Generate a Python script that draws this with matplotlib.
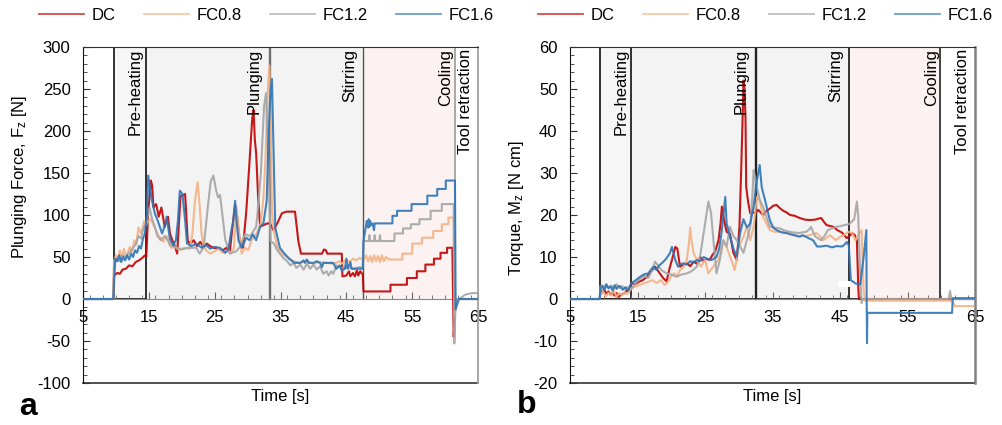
import numpy as np
import matplotlib.pyplot as plt
from matplotlib.patches import Rectangle
from matplotlib.ticker import MultipleLocator

plt.rcParams['font.family'] = ['Liberation Sans', 'DejaVu Sans']
plt.rcParams['font.size'] = 12
plt.rcParams['mathtext.default'] = 'regular'
plt.rcParams['axes.unicode_minus'] = False

series = ['DC', 'FC0.8', 'FC1.2', 'FC1.6']
colors = ['#c00000', '#f4b183', '#a5a5a5', '#2e75b6']
phase_names = ['Pre-heating', 'Plunging', 'Stirring', 'Cooling', 'Tool retraction']

# phase boundaries [s] and label positions
phases_a = [9.7, 14.55, 33.4, 47.5, 61.5]
phases_b = [9.44, 14.04, 32.5, 46.4, 59.8]
label_x_a = [12.9, 31.0, 45.5, 60.1, 63.1]
label_x_b = [12.5, 30.4, 44.4, 58.5, 63.1]

# ---- (a) plunging force ----
dc_f_t = [5, 9.6, 9.7, 10.2, 10.6, 11.0, 11.5, 12.0, 12.5, 13.0, 13.5, 14.0, 14.4, 14.6, 14.9, 15.3, 15.5, 15.7,
          16.1, 16.5, 16.9, 17.4, 17.9, 18.2, 18.6, 19.0, 19.3, 19.6, 19.8, 20.5, 20.7, 20.9, 21.3, 21.8, 22.3,
          22.8, 23.3, 23.8, 24.3, 24.8, 25.5, 26.2, 26.8, 27.3, 27.7, 28.1, 28.4, 28.8, 29.3, 29.8, 30.3, 30.7,
          30.9, 31.1, 31.3, 31.6, 31.9, 32.4, 33.0, 33.4, 33.9, 34.5, 35.2, 35.9, 36.9, 37.2, 37.7, 38.1, 41.3,
          41.6, 41.9, 42.1, 44.3, 44.4, 45.0, 45.4, 45.6, 46.0, 46.3, 46.6, 46.8, 47.1, 47.5, 47.6, 51.7, 51.7,
          54.2, 54.2, 55.7, 55.7, 57.0, 57.0, 58.3, 58.3, 59.3, 59.3, 60.3, 60.3, 61.1, 61.3, 61.5, 61.7, 65]
dc_f = [0, 0, 28, 31, 30, 35, 36, 40, 39, 44, 46, 49, 52, 50, 104, 141, 135, 109,
        113, 98, 109, 86, 98, 78, 69, 62, 54, 95, 122, 125, 98, 69, 66, 70, 63,
        68, 62, 66, 63, 61, 60, 58, 61, 57, 86, 112, 98, 69, 61, 105, 165, 215,
        225, 189, 173, 120, 86, 88, 90, 90, 82, 90, 102, 104, 104, 104, 69, 54, 54,
        59, 58, 54, 54, 27, 28, 33, 27, 31, 27, 34, 28, 33, 29, 9, 9, 17,
        17, 25, 25, 33, 33, 41, 41, 48, 48, 55, 55, 61, 61, -45, -15, 0, 0]

fc08_f_t = [5, 9.6, 9.7, 10.0, 10.3, 10.6, 10.9, 11.2, 11.5, 11.8, 12.1, 12.4, 12.8, 13.1, 13.4, 13.8, 14.3, 14.6,
            14.9, 15.3, 15.8, 16.5, 17.2, 17.7, 18.4, 19.0, 19.6, 20.3, 21.2, 21.6, 22.0, 22.4, 22.7, 23.0, 23.3,
            23.7, 24.3, 25.0, 25.6, 26.2, 26.8, 27.4, 27.9, 28.3, 28.6, 29.1, 29.6, 30.1, 30.6, 31.3, 32.0, 32.4,
            32.7, 33.0, 33.3, 33.5, 33.7, 34.0, 34.5, 35.2, 36.0, 37.0, 38.0, 39.0, 40.0, 41.0, 42.0, 43.0, 44.0,
            44.3, 45.0, 45.5, 46.0, 46.5, 47.0, 47.5, 47.6, 48.0, 48.3, 48.6, 48.9, 49.2, 49.5, 49.8, 50.1, 50.4,
            50.7, 51.0, 51.5, 53.5, 53.5, 55.0, 55.0, 56.5, 56.5, 58.2, 58.2, 59.5, 59.5, 60.5, 60.5, 61.3,
            61.45, 61.6, 61.8, 65]
fc08_f = [0, 0, 45, 52, 47, 58, 48, 60, 50, 56, 62, 55, 70, 65, 85, 78, 93, 88,
          93, 95, 86, 75, 68, 75, 61, 62, 58, 61, 60, 77, 117, 139, 113, 78, 64,
          58, 54, 57, 60, 55, 57, 55, 60, 110, 86, 54, 61, 58, 70, 77, 90, 120,
          165, 240, 278, 207, 105, 80, 62, 54, 50, 45, 43, 45, 42, 44, 43, 42, 45,
          42, 47, 44, 48, 46, 49, 47, 45, 52, 45, 51, 44, 52, 45, 51, 44, 52,
          45, 50, 47, 47, 54, 54, 66, 66, 73, 73, 81, 81, 89, 89, 97, 97,
          -20, -5, 0, 0]

fc12_f_t = [5, 9.6, 9.7, 10.0, 10.5, 11.0, 11.5, 12.0, 12.5, 13.0, 13.4, 13.8, 14.2, 14.6, 15.1, 15.5, 15.9, 16.3,
            16.8, 17.4, 17.8, 18.2, 19.0, 20.0, 21.0, 22.2, 22.7, 23.3, 23.7, 24.0, 24.4, 24.8, 25.2, 25.5, 25.8,
            26.2, 26.6, 27.3, 28.3, 28.8, 29.6, 30.4, 31.3, 31.7, 32.0, 32.5, 32.8, 33.2, 33.5, 34.0, 34.5, 35.4,
            36.0, 36.5, 37.0, 37.4, 38.0, 38.5, 39.0, 39.5, 40.0, 40.5, 41.0, 41.5, 42.0, 42.3, 42.7, 43.0, 43.5,
            44.2, 45.0, 46.0, 47.0, 47.5, 47.6, 48.4, 48.5, 48.6, 49.2, 49.3, 49.4, 50.0, 50.1, 50.2, 52.3, 52.3,
            53.6, 53.6, 54.8, 54.8, 56.1, 56.1, 57.8, 57.8, 59.5, 59.5, 61.3, 61.4, 61.6, 62.0, 62.5, 63.0, 63.5,
            64.0, 65]
fc12_f = [0, 0, 42, 48, 45, 52, 50, 55, 60, 65, 75, 72, 85, 90, 109, 95, 86, 75,
          70, 75, 71, 64, 62, 59, 61, 61, 54, 61, 90, 113, 140, 147, 130, 121, 124,
          98, 71, 54, 57, 62, 77, 75, 86, 120, 149, 230, 245, 145, 69, 66, 58, 49,
          45, 40, 43, 37, 41, 35, 42, 36, 41, 35, 39, 30, 33, 28, 33, 30, 40,
          37, 38, 36, 38, 37, 69, 69, 76, 69, 69, 76, 69, 69, 76, 69, 69, 78,
          78, 84, 84, 89, 89, 95, 95, 105, 105, 113, 113, -53, -5, 0, 2, 5, 6,
          7, 7]

fc16_f_t = [5, 9.6, 9.75, 9.9, 10.2, 10.5, 10.8, 11.1, 11.4, 11.7, 12.0, 12.3, 12.6, 12.9, 13.2, 13.5, 13.8, 14.1,
            14.4, 14.7, 14.9, 15.4, 15.9, 16.4, 17.0, 17.5, 17.7, 18.2, 18.7, 19.1, 19.4, 19.7, 20.1, 20.5, 20.8,
            21.5, 22.2, 23.0, 23.7, 24.3, 25.0, 25.8, 26.6, 27.1, 27.5, 27.8, 28.1, 28.3, 28.6, 29.1, 29.8, 30.3,
            30.8, 31.3, 31.9, 32.4, 32.9, 33.2, 33.5, 33.7, 33.9, 34.2, 34.9, 35.6, 36.3, 37.1, 38.0, 38.5, 38.7,
            39.0, 39.3, 40.0, 40.5, 41.0, 41.3, 41.5, 42.0, 43.0, 43.5, 44.0, 44.3, 44.8, 45.0, 45.2, 45.6, 45.8,
            46.5, 47.5, 47.6, 48.1, 48.3, 48.4, 48.5, 48.6, 48.8, 49.0, 49.2, 49.3, 52.0, 52.0, 52.7, 52.7, 54.9,
            54.9, 57.3, 57.3, 58.8, 58.8, 60.1, 60.1, 61.5, 61.6, 61.9, 62.1, 65]
fc16_f = [0, 0, 25, 48, 45, 52, 44, 50, 46, 52, 47, 54, 50, 58, 55, 63, 60, 72,
          78, 100, 147, 120, 102, 92, 78, 89, 98, 71, 64, 70, 92, 129, 125, 94, 66,
          63, 66, 61, 64, 60, 62, 61, 55, 60, 80, 92, 117, 94, 70, 61, 73, 70,
          77, 70, 86, 90, 117, 200, 250, 262, 189, 85, 61, 54, 48, 43, 43, 46, 43,
          47, 43, 43, 45, 43, 38, 43, 43, 43, 36, 40, 34, 36, 48, 36, 44, 36,
          36, 36, 69, 93, 85, 95, 86, 93, 88, 90, 82, 90, 90, 99, 99, 105, 105,
          113, 113, 123, 123, 131, 131, 141, 141, -12, -5, 0, 0]

# ---- (b) torque ----
dc_m_t = [5, 9.4, 9.5, 9.8, 10.1, 10.4, 10.7, 11.0, 11.3, 11.6, 11.9, 12.2, 12.5, 12.8, 13.1, 13.4, 13.6, 14.1,
          14.6, 15.2, 15.8, 16.4, 17.0, 17.6, 18.0, 18.3, 18.8, 19.3, 19.7, 20.1, 20.6, 20.9, 21.3, 21.8, 22.3,
          22.8, 23.3, 23.8, 24.3, 24.8, 25.2, 25.7, 26.1, 26.5, 27.0, 27.3, 27.5, 27.8, 28.2, 28.7, 29.2, 29.7,
          30.1, 30.4, 30.6, 30.7, 30.85, 31.0, 31.1, 31.4, 31.7, 32.0, 32.4, 32.9, 33.3, 33.6, 34.1, 34.6, 35.1,
          35.6, 36.1, 36.6, 37.1, 37.6, 38.3, 39.0, 39.8, 40.5, 41.3, 42.2, 42.6, 43.0, 43.5, 44.0, 44.6, 45.3,
          46.0, 46.4, 46.8, 47.2, 47.5, 47.7, 47.8, 65]
dc_m = [0, 0, 2.0, 1.5, 2.2, 1.2, 1.8, 1.0, 1.5, 0.8, 1.4, 0.5, 0.9, 1.2, 1.4, 2.1, 1.8, 3.8,
        3.5, 4.1, 4.5, 5.3, 6.5, 7.7, 6.8, 6.1, 5.0, 4.2, 7.0, 9.3, 12.4, 12.0, 7.7, 8.2, 8.5,
        7.8, 8.9, 8.4, 10.0, 9.0, 9.6, 9.3, 10.5, 11.3, 14.0, 18.0, 22.0, 19.0, 16.0, 15.5, 11.0, 9.3,
        17.0, 33.0, 45.0, 52.0, 50.0, 43.0, 26.7, 23.0, 20.4, 20.8, 20.4, 21.2, 20.5, 20.0, 21.0, 21.5, 22.2,
        22.4, 21.6, 21.0, 20.6, 20.0, 19.8, 19.3, 18.9, 18.8, 18.9, 19.3, 18.4, 17.6, 17.4, 17.2, 16.4, 15.8,
        14.5, 15.0, 15.7, 15.2, 14.0, 3.0, 0, 0]

fc08_m_t = [5, 9.4, 9.5, 9.9, 10.3, 10.7, 11.1, 11.5, 11.9, 12.3, 12.7, 13.1, 13.5, 14.1, 14.7, 15.3, 16.0, 16.6,
            17.2, 17.8, 18.5, 19.0, 19.5, 20.0, 20.4, 20.9, 21.3, 21.8, 22.3, 22.6, 22.8, 23.0, 23.3, 23.8, 24.4,
            25.0, 25.5, 26.2, 27.0, 27.7, 28.2, 28.9, 29.4, 30.0, 30.7, 31.2, 31.7, 32.2, 32.7, 33.1, 33.6, 34.1,
            34.6, 35.3, 36.1, 36.8, 37.6, 38.3, 39.0, 39.8, 40.5, 41.5, 42.0, 42.5, 43.0, 43.5, 44.4, 45.0, 45.6,
            46.3, 46.8, 47.3, 47.8, 48.2, 48.5, 48.7, 61.5, 61.8, 62.0, 64.7]
fc08_m = [0, 0, 1.0, 1.8, 0.6, 1.5, 0.8, 2.0, 0.5, 1.4, 0.9, 1.6, 1.2, 2.5, 3.0, 3.3, 3.8, 4.1,
          4.5, 3.8, 4.5, 3.3, 4.0, 5.5, 6.1, 5.5, 6.9, 7.5, 9.3, 13.0, 17.0, 14.0, 11.0, 9.3, 7.7,
          9.3, 6.1, 7.7, 9.3, 14.0, 12.4, 9.3, 6.9, 12.4, 14.8, 17.2, 14.0, 17.2, 24.3, 23.5, 19.6, 18.0,
          16.4, 16.0, 16.0, 15.7, 15.7, 15.0, 14.8, 15.0, 15.2, 15.7, 15.0, 14.0, 14.6, 15.2, 14.0, 14.8, 15.2,
          16.0, 15.7, 14.0, 15.5, 16.4, 2.0, -0.4, -0.4, -1.0, -1.7, -1.7]

fc12_m_t = [5, 9.4, 9.5, 9.9, 10.3, 10.7, 11.1, 11.5, 11.9, 12.3, 12.7, 13.1, 13.5, 14.1, 14.7, 15.4, 16.0, 16.6,
            17.2, 17.6, 18.0, 18.6, 19.3, 20.0, 20.8, 21.5, 22.3, 23.0, 23.8, 24.3, 24.8, 25.2, 25.5, 25.9, 26.3,
            26.7, 27.2, 27.7, 28.2, 28.7, 29.2, 29.7, 30.2, 30.7, 31.2, 31.7, 32.0, 32.2, 32.4, 32.7, 33.1, 33.6,
            34.1, 34.6, 35.3, 36.1, 36.8, 37.6, 38.3, 39.0, 39.5, 40.0, 40.4, 40.7, 41.0, 41.4, 41.8, 42.2, 42.7,
            43.2, 43.8, 44.4, 45.0, 45.6, 46.3, 46.8, 47.1, 47.3, 47.5, 47.7, 48.0, 48.2, 48.4, 61.1, 61.3, 61.5, 65]
fc12_m = [0, 0, 3.0, 2.2, 3.4, 2.5, 3.2, 2.4, 3.5, 2.6, 3.1, 2.4, 2.8, 2.5, 3.8, 4.8, 5.5, 5.0,
          7.0, 8.9, 8.0, 6.8, 6.1, 5.8, 5.3, 5.8, 6.1, 6.6, 7.7, 10.5, 15.7, 20.0, 23.2, 20.4, 13.0,
          6.1, 9.3, 14.0, 12.5, 17.2, 15.0, 14.0, 12.5, 11.0, 14.0, 17.2, 24.0, 30.7, 29.0, 26.7, 23.6, 22.0,
          19.5, 17.2, 17.0, 16.8, 16.3, 16.0, 15.8, 15.7, 15.9, 16.0, 16.5, 17.2, 16.0, 14.8, 14.4, 14.0, 15.0,
          16.4, 16.8, 17.2, 17.3, 17.6, 17.8, 18.5, 19.0, 21.0, 23.2, 19.6, 5.3, -1.0, 0, 0, 1.9, 0, 0]

fc16_m_t = [5, 9.4, 9.5, 9.8, 10.1, 10.4, 10.7, 11.0, 11.3, 11.6, 11.9, 12.2, 12.4, 12.8, 13.2, 13.6, 14.1, 14.6,
            15.0, 15.4, 16.0, 16.6, 17.0, 17.4, 17.8, 18.2, 18.6, 19.2, 19.8, 20.1, 20.6, 21.0, 21.4, 21.8, 22.3,
            22.8, 23.3, 23.8, 24.3, 24.8, 25.4, 26.0, 26.7, 27.1, 27.5, 28.0, 28.2, 28.7, 29.2, 29.7, 30.2, 30.7,
            31.2, 31.7, 32.2, 32.7, 33.1, 33.4, 33.9, 34.6, 35.1, 35.6, 36.3, 37.1, 37.6, 38.3, 39.0, 39.5, 40.2,
            41.0, 41.6, 42.2, 43.0, 43.8, 44.5, 45.3, 45.7, 46.0, 46.3, 46.6, 47.3, 48.0, 48.5, 48.9, 48.95, 49.0,
            49.05, 61.6, 61.7, 62.1, 65]
fc16_m = [0, 0, 2.5, 3.2, 2.2, 3.5, 2.6, 3.0, 2.0, 3.3, 2.4, 3.1, 3.0, 2.2, 2.8, 2.0, 3.8, 4.3,
          4.8, 5.3, 5.9, 6.1, 7.0, 7.7, 6.9, 8.0, 8.5, 9.5, 10.9, 12.4, 9.3, 7.7, 8.3, 8.5, 8.2,
          9.0, 8.7, 9.3, 9.0, 10.0, 9.5, 9.3, 10.0, 12.0, 16.4, 24.3, 18.0, 14.9, 12.0, 10.1, 15.7, 19.0,
          17.0, 18.0, 22.0, 28.3, 31.9, 26.6, 23.5, 18.8, 17.0, 16.4, 15.9, 15.7, 15.4, 15.2, 14.9, 15.2, 14.6,
          14.0, 12.5, 12.5, 12.7, 12.3, 12.6, 12.5, 13.0, 13.6, 12.8, 4.5, 3.7, 3.5, 10.0, 16.4, 0, -10.5,
          -3.3, -3.3, 0.2, 0.2, 0.2]

force_data = [(dc_f_t, dc_f), (fc08_f_t, fc08_f), (fc12_f_t, fc12_f), (fc16_f_t, fc16_f)]
torque_data = [(dc_m_t, dc_m), (fc08_m_t, fc08_m), (fc12_m_t, fc12_m), (fc16_m_t, fc16_m)]


def draw_panel(ax, data, ph, lab_x, ymin, ymax, ymaj, ymin_step, light_lines, leg_x):
    ax.set_xlim(5, 65)
    ax.set_ylim(ymin, ymax)

    # phase boxes
    fills = ['#f6f6f6', '#f3f3f3', '#f3f3f3', '#fcf2f2']
    for i in range(4):
        ax.add_patch(Rectangle((ph[i], 0), ph[i+1]-ph[i], ymax, facecolor=fills[i],
                               edgecolor='none', zorder=0))
    vcols, vlw = light_lines
    for x, c, w in zip(ph, vcols, vlw):
        ax.plot([x, x], [0, ymax], color=c, lw=w, zorder=1)
    ax.plot([ph[0], ph[1]], [0, 0], color='#222222', lw=1.3, zorder=1)

    for (t, y), c, name in zip(data, colors, series):
        ax.plot(t, y, color=c, lw=1.5, alpha=0.9, label=name, zorder=3)

    for x, name in zip(lab_x, phase_names):
        ax.text(x, ymax - (ymax - ymin) * 0.006, name, rotation=90, ha='center', va='top', zorder=4)

    ax.spines['bottom'].set_position(('data', 0))
    ax.spines['bottom'].set_color('#8a8a8a')
    ax.spines['bottom'].set_zorder(2)
    ax.spines['left'].set_color('#111111')
    ax.spines['top'].set_color('#333333')
    ax.plot([0, 1], [0, 0], transform=ax.transAxes, color='#333333', lw=1.2, clip_on=False)

    ax.set_xticks(np.arange(5, 66, 10))
    ax.xaxis.set_minor_locator(MultipleLocator(2))
    ax.yaxis.set_major_locator(MultipleLocator(ymaj))
    ax.yaxis.set_minor_locator(MultipleLocator(ymin_step))
    ax.tick_params(axis='x', which='both', direction='in', pad=8, color='#666666')
    ax.tick_params(axis='y', which='both', direction='in', pad=9, color='#333333')
    ax.tick_params(which='major', length=5)
    ax.tick_params(which='minor', length=3)
    ax.tick_params(labelsize=12)

    ax.text(0.5, -0.04, 'Time [s]', transform=ax.transAxes, ha='center', va='center')
    leg = ax.legend(loc='center', bbox_to_anchor=(leg_x, 1.095), ncol=4, frameon=False,
                    handlelength=2.7, columnspacing=1.7, handletextpad=0.45, fontsize=12)
    for h in leg.get_lines():
        h.set_alpha(0.7)
        h.set_linewidth(1.3)


fig = plt.figure(figsize=(10.03, 4.25), dpi=100)
ax1 = fig.add_axes([0.0828, 0.0988, 0.3938, 0.7906])
ax2 = fig.add_axes([0.5683, 0.0988, 0.4038, 0.7906])

draw_panel(ax1, force_data, phases_a, label_x_a, -100, 300, 50, 10,
           (['#222222', '#222222', '#6e6e6e', '#555555', '#a8a8a8'], [1.3, 1.3, 1.7, 1.0, 1.4]), 0.465)
ax1.spines['right'].set_color('#a0a0a0')
ax1.spines['right'].set_linewidth(1.3)

draw_panel(ax2, torque_data, phases_b, label_x_b, -20, 60, 10, 2,
           (['#222222', '#222222', '#222222', '#222222', '#222222'], [1.3, 1.3, 1.7, 1.3, 1.2]), 0.482)
ax2.plot([phases_b[0], phases_b[4]], [0, 0], color='#222222', lw=1.3, zorder=1)
ax2.spines['right'].set_color('#808080')
ax2.spines['right'].set_linewidth(1.8)
ax2.add_patch(Rectangle((44.7, 2.9), 1.8, 1.4, facecolor='white', edgecolor='none', zorder=5))

fig.text(20/1003, 1 - 177/425, 'Plunging Force, F$_z$ [N]', rotation=90, ha='center', va='center')
fig.text(516/1003, 1 - 208/425, 'Torque, M$_z$ [N cm]', rotation=90, ha='center', va='center')
fig.text(28/1003, 1 - 407/425, 'a', fontsize=23, fontweight='bold', ha='center', va='center')
fig.text(527/1003, 1 - 405/425, 'b', fontsize=23, fontweight='bold', ha='center', va='center')

plt.savefig('out.png', dpi=100)
